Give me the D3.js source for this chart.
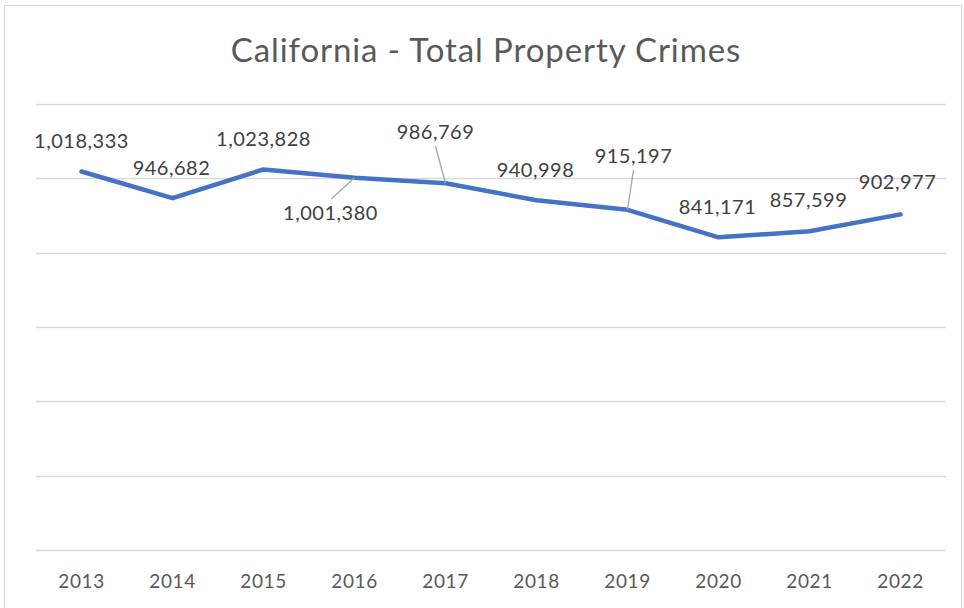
<!DOCTYPE html>
<html><head><meta charset="utf-8">
<script src="https://cdn.jsdelivr.net/npm/d3@7"></script>
<style>html,body{margin:0;padding:0;background:#fff;} svg{display:block;}</style>
</head><body>
<svg id="c" width="964" height="608"></svg>
<script>
const years = ["2013","2014","2015","2016","2017","2018","2019","2020","2021","2022"];
const crimes = [1018333, 946682, 1023828, 1001380, 986769, 940998, 915197, 841171, 857599, 902977];
const yTicks = [0, 200000, 400000, 600000, 800000, 1000000, 1200000];
const title = "California - Total Property Crimes";

// label placement offsets (dx, dy of label center from point) and leader flags
const labelOffsets = [[0,-31],[-1,-30],[0,-30],[-24,35],[-10,-51],[-1,-30],[6,-54],[-1,-30],[-1,-31],[-3,-32]];
const leaders = [false,false,false,true,true,false,true,false,false,false];

const svg = d3.select("#c");
const W = 964, H = 608;
svg.append("rect").attr("x",4.5).attr("y",5.5).attr("width",W-7).attr("height",H).attr("fill","#fff").attr("stroke","#d9d9d9").attr("stroke-width",1);

const x = d3.scaleBand().domain(years).range([36,946]);
const y = d3.scaleLinear().domain([0,1200000]).range([550,104]);
const cx = d => x(d) + x.bandwidth()/2;

svg.append("g").selectAll("line").data(yTicks).join("line")
  .attr("x1",36).attr("x2",946)
  .attr("y1",d=>Math.round(y(d))+0.5).attr("y2",d=>Math.round(y(d))+0.5)
  .attr("stroke","#d9d9d9").attr("stroke-width",1.3);

svg.append("text").attr("x",486).attr("y",62).attr("text-anchor","middle")
  .attr("font-family","Lato, 'Open Sans', sans-serif").attr("font-size",33).attr("letter-spacing",0.9).attr("fill","#595959").text(title);

const xAxis = d3.axisBottom(x).tickSize(0).tickPadding(0);
const gx = svg.append("g").attr("transform","translate(0,588)").call(xAxis);
gx.select(".domain").remove();
gx.selectAll("text").attr("font-family","Lato, 'Open Sans', sans-serif").attr("font-size",19).attr("letter-spacing",0.6).attr("fill","#595959").attr("dy","0").attr("y",0);

const data = years.map((yr,i)=>({yr, v:crimes[i], off:labelOffsets[i], lead:leaders[i]}));

svg.append("path").datum(data)
  .attr("d", d3.line().x(d=>cx(d.yr)).y(d=>y(d.v)))
  .attr("fill","none").attr("stroke","#4472C4").attr("stroke-width",4.5).attr("stroke-linejoin","round").attr("stroke-linecap","round");

const fmt = d3.format(",");
const leadG = svg.append("g");
data.filter(d=>d.lead).forEach(d=>{
  const px = cx(d.yr), py = y(d.v);
  const lx = px + d.off[0], ly = py + d.off[1];
  const endY = d.off[1] < 0 ? ly + 14 : ly - 14;
  leadG.append("line").attr("x1",lx + (d.off[1]>0? 1:0)).attr("y1",endY).attr("x2",px).attr("y2",py)
    .attr("stroke","#a6a6a6").attr("stroke-width",1.3);
});
svg.append("g").selectAll("text").data(data).join("text")
  .attr("x",d=>cx(d.yr)+d.off[0]).attr("y",d=>y(d.v)+d.off[1])
  .attr("text-anchor","middle").attr("dy","0.35em")
  .attr("font-family","Lato, 'Open Sans', sans-serif").attr("font-size",20).attr("letter-spacing",0.5).attr("fill","#404040")
  .text(d=>fmt(d.v));
</script>
</body></html>
